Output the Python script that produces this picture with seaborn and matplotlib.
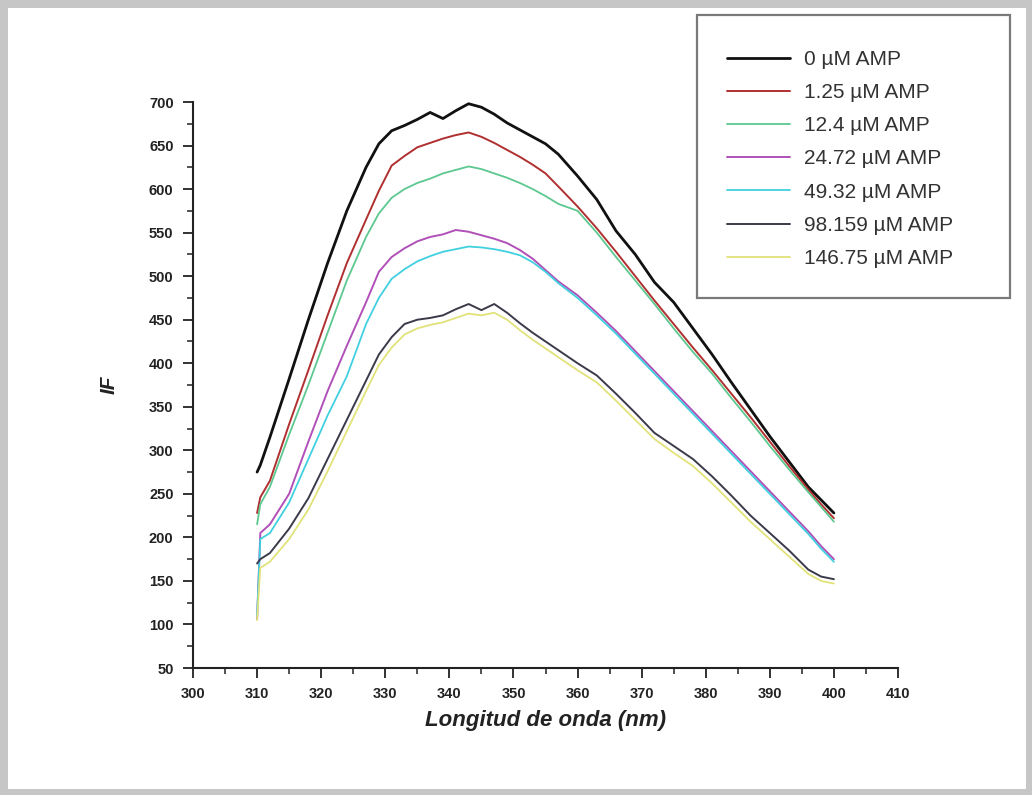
import numpy as np
import pandas as pd
import matplotlib
matplotlib.use("Agg")
import matplotlib.pyplot as plt
from matplotlib.patches import Rectangle
from matplotlib.ticker import MultipleLocator
import seaborn as sns

# ---------------- data ----------------
wavelength = [310, 310.5, 312, 315, 318, 321, 324, 327, 329, 331, 333, 335, 337, 339,
              341, 343, 345, 347, 349, 351, 353, 355, 357, 360, 363, 366, 369, 372,
              375, 378, 381, 384, 387, 390, 393, 396, 398, 400]

if_0 = [275, 283, 315, 382, 450, 515, 575, 625, 652, 667, 673, 680, 688, 681,
        690, 698, 694, 686, 676, 668, 660, 652, 640, 615, 588, 552, 525, 493,
        470, 440, 410, 378, 347, 316, 287, 258, 243, 228]
if_1_25 = [228, 246, 265, 330, 392, 455, 515, 565, 598, 627, 638, 648, 653, 658,
           662, 665, 660, 653, 645, 637, 628, 618, 603, 580, 555, 528, 500, 472,
           445, 418, 392, 365, 338, 310, 282, 255, 238, 222]
if_12_4 = [215, 238, 258, 318, 375, 435, 495, 545, 572, 590, 600, 607, 612, 618,
           622, 626, 623, 618, 613, 607, 600, 592, 583, 575, 550, 522, 495, 468,
           440, 413, 388, 360, 333, 305, 278, 252, 235, 218]
if_24_72 = [106, 205, 215, 250, 310, 368, 420, 470, 505, 522, 532, 540, 545, 548,
            553, 551, 547, 543, 538, 530, 520, 507, 494, 478, 458, 437, 414, 391,
            368, 345, 322, 299, 276, 253, 230, 207, 190, 175]
if_49_32 = [110, 198, 205, 240, 290, 340, 385, 445, 475, 497, 508, 517, 523, 528,
            531, 534, 533, 531, 528, 524, 516, 505, 492, 475, 455, 434, 411, 388,
            365, 342, 319, 296, 273, 250, 227, 204, 187, 172]
if_98_159 = [170, 175, 182, 210, 245, 290, 335, 380, 410, 430, 445, 450, 452, 455,
             462, 468, 461, 468, 458, 446, 435, 425, 415, 400, 386, 365, 343, 320,
             305, 290, 270, 248, 225, 205, 185, 163, 155, 152]
if_146_75 = [105, 165, 172, 198, 232, 276, 322, 368, 398, 418, 433, 440, 444, 447,
             452, 457, 455, 458, 450, 438, 427, 417, 407, 392, 378, 357, 335, 313,
             297, 282, 262, 240, 218, 198, 178, 158, 150, 147]

labels = ["0 \u00b5M AMP", "1.25 \u00b5M AMP", "12.4 \u00b5M AMP", "24.72 \u00b5M AMP",
          "49.32 \u00b5M AMP", "98.159 \u00b5M AMP", "146.75 \u00b5M AMP"]
series = [if_0, if_1_25, if_12_4, if_24_72, if_49_32, if_98_159, if_146_75]
colors = ["#111111", "#b03030", "#5cc890", "#b050b8", "#40d0e0", "#3a3a4a", "#e2e27a"]
widths = [2.0, 1.4, 1.3, 1.4, 1.3, 1.4, 1.3]

xticks = [300, 310, 320, 330, 340, 350, 360, 370, 380, 390, 400, 410]
yticks = [50, 100, 150, 200, 250, 300, 350, 400, 450, 500, 550, 600, 650, 700]

df = pd.concat(
    [pd.DataFrame({"wl": wavelength, "IF": vals, "conc": lab})
     for lab, vals in zip(labels, series)],
    ignore_index=True)

# ---------------- figure ----------------
sns.set_theme(style="ticks")
plt.rcParams["font.family"] = ["Liberation Sans", "DejaVu Sans"]

W, H = 1032, 795
fig = plt.figure(figsize=(W / 100, H / 100), dpi=100)
fig.patch.set_facecolor("#c6c6c6")
fig.patches.append(Rectangle((8 / W, 6 / H), (W - 14) / W, (H - 14) / H,
                             transform=fig.transFigure, facecolor="white",
                             edgecolor="none", zorder=-10))

ax = fig.add_axes([193 / W, 1 - 668 / H, (898 - 193) / W, (668 - 102) / H])
ax.set_facecolor("none")

for lab, col, lw in zip(labels, colors, widths):
    sub = df[df["conc"] == lab]
    sns.lineplot(data=sub, x="wl", y="IF", color=col, linewidth=lw,
                 estimator=None, sort=False, ax=ax, label=lab)
handles, hlabels = ax.get_legend_handles_labels()
ax.get_legend().remove()

ax.set_xlim(300, 410)
ax.set_ylim(50, 700)
ax.set_xticks(xticks)
ax.set_yticks(yticks)
ax.xaxis.set_minor_locator(MultipleLocator(5))
ax.yaxis.set_minor_locator(MultipleLocator(25))
for side in ["top", "right"]:
    ax.spines[side].set_visible(False)
for side in ["left", "bottom"]:
    ax.spines[side].set_linewidth(1.5)
    ax.spines[side].set_color("#222222")
ax.tick_params(which="major", direction="out", length=7, width=1.3, color="#222222",
               labelsize=10.5, pad=7)
ax.tick_params(which="minor", direction="out", length=4.5, width=1.1, color="#222222")
for t in ax.get_xticklabels() + ax.get_yticklabels():
    t.set_fontweight("bold")
    t.set_color("#222222")

ax.set_xlabel("Longitud de onda (nm)", fontsize=16, fontweight="bold",
              fontstyle="italic", color="#222222", labelpad=6)
ax.set_ylabel("IF", fontsize=15, fontweight="bold", fontstyle="italic",
              color="#222222", labelpad=22)

# legend frame and legend
fig.patches.append(Rectangle((697 / W, 1 - 298 / H), (1010 - 697) / W, (298 - 15) / H,
                             transform=fig.transFigure, facecolor="white",
                             edgecolor="#7a7a7a", linewidth=1.6, zorder=1))
leg = fig.legend(handles, hlabels, loc="upper left",
                 bbox_to_anchor=(727 / W, 1 - 50 / H), bbox_transform=fig.transFigure,
                 frameon=False, fontsize=15, handlelength=3.0, handletextpad=0.7,
                 labelspacing=0.68, borderpad=0, borderaxespad=0)
leg.set_zorder(5)
for t in leg.get_texts():
    t.set_color("#333333")

fig.savefig("out.png", dpi=100, facecolor=fig.get_facecolor())
